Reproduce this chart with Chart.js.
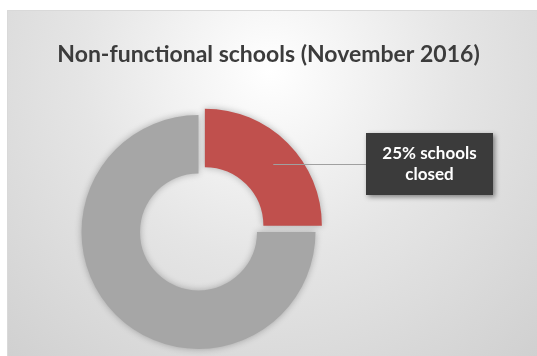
<!DOCTYPE html>
<html>
<head>
<meta charset="utf-8">
<script src="https://cdn.jsdelivr.net/npm/chart.js@4/dist/chart.umd.min.js"></script>
<style>
  html, body { margin: 0; padding: 0; background: #ffffff; }
  #wrap { width: 537px; height: 356px; }
</style>
</head>
<body>
<div id="wrap"><canvas id="schoolsChart" width="537" height="356"></canvas></div>
<script>
// chart data
const categories = ['Schools closed', 'Functional schools'];
const shares = [25, 75];
const sliceColors = ['#c0504d', '#a6a6a6'];
const calloutLines = ['25% schools', 'closed'];
const titleText = 'Non-functional schools (November 2016)';

// gradient frame behind the chart
const framePlugin = {
    id: 'frame',
    beforeDraw(chart) {
        const ctx = chart.ctx;
        ctx.save();
        const g = ctx.createRadialGradient(270, 70, 0, 270, 70, 420);
        g.addColorStop(0, '#ffffff');
        g.addColorStop(0.45, '#e5e5e5');
        g.addColorStop(1, '#cdcdcd');
        ctx.fillStyle = g;
        ctx.fillRect(7, 10, 530, 346);
        ctx.strokeStyle = '#d9d9d9';
        ctx.lineWidth = 1;
        ctx.beginPath();
        ctx.moveTo(7.5, 356);
        ctx.lineTo(7.5, 10.5);
        ctx.lineTo(537, 10.5);
        ctx.stroke();
        ctx.restore();
    }
};

// pull the doughnut to the left, leave room for the callout
const shiftPlugin = {
    id: 'shift',
    afterLayout(chart) {
        chart.chartArea.right = chart.chartArea.left + 397;
        chart.chartArea.width = 397;
    }
};

// soft shadow under the ring
const shadowPlugin = {
    id: 'ringShadow',
    beforeDatasetsDraw(chart) {
        const ctx = chart.ctx;
        ctx.save();
        ctx.shadowColor = 'rgba(0, 0, 0, 0.28)';
        ctx.shadowBlur = 7;
    },
    afterDatasetsDraw(chart) {
        chart.ctx.restore();
    }
};

// leader line + dark label box for the red slice
const calloutPlugin = {
    id: 'callout',
    afterDatasetsDraw(chart) {
        const ctx = chart.ctx;
        const arc = chart.getDatasetMeta(0).data[0];
        const p = arc.getCenterPoint();
        const box = { x: 366, y: 133, w: 127, h: 62 };
        const midY = box.y + box.h / 2;

        ctx.save();
        ctx.strokeStyle = '#a0a0a0';
        ctx.lineWidth = 1;
        ctx.beginPath();
        ctx.moveTo(p.x, Math.round(midY) + 0.5);
        ctx.lineTo(box.x, Math.round(midY) + 0.5);
        ctx.stroke();

        ctx.shadowColor = 'rgba(0, 0, 0, 0.45)';
        ctx.shadowBlur = 5;
        ctx.shadowOffsetX = 2;
        ctx.shadowOffsetY = 2;
        ctx.fillStyle = '#3b3b3b';
        ctx.fillRect(box.x, box.y, box.w, box.h);
        ctx.shadowColor = 'transparent';

        ctx.fillStyle = '#ffffff';
        ctx.font = 'bold 17px Lato';
        ctx.textAlign = 'center';
        ctx.textBaseline = 'middle';
        calloutLines.forEach((line, i) => {
            ctx.fillText(line, box.x + box.w / 2, box.y + 21 + i * 21);
        });
        ctx.restore();
    }
};

const ctx = document.getElementById('schoolsChart').getContext('2d');
new Chart(ctx, {
    type: 'doughnut',
    data: {
        labels: categories,
        datasets: [{
            data: shares,
            backgroundColor: sliceColors,
            borderWidth: 0,
            offset: [36, 0]
        }]
    },
    options: {
        responsive: false,
        animation: false,
        radius: 117,
        cutout: '50%',
        layout: { padding: 0 },
        plugins: {
            legend: { display: false },
            tooltip: { enabled: false },
            title: {
                display: true,
                text: titleText,
                color: '#3c3c3c',
                font: { family: 'Lato', size: 23, weight: 'bold' },
                padding: { top: 41, bottom: 39.4 }
            }
        }
    },
    plugins: [framePlugin, shiftPlugin, shadowPlugin, calloutPlugin]
});
</script>
</body>
</html>
